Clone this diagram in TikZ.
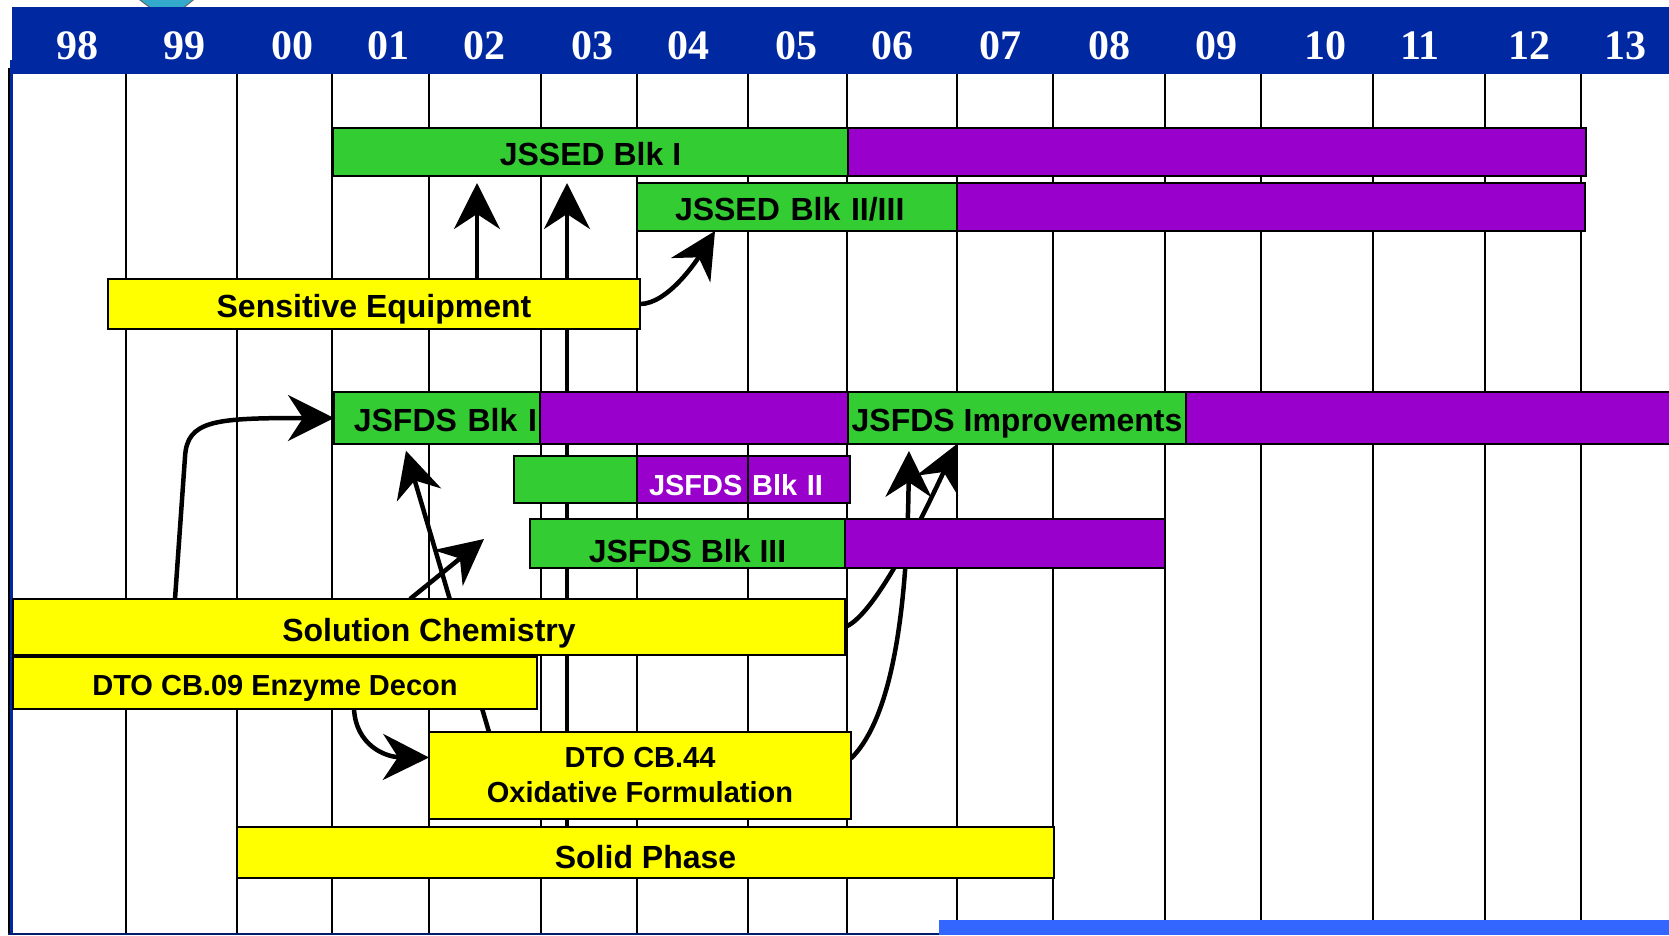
\documentclass[tikz,border=0pt]{standalone}
\usepackage{fontspec}
\setmainfont{Liberation Sans}
\newfontfamily\yearfont{Liberation Serif}
\usepackage{xcolor}
\usepackage{tikz}
\usetikzlibrary{positioning, arrows.meta}
\definecolor{hdrBlue}{RGB}{0,40,160}
\definecolor{barGreen}{RGB}{51,204,51}
\definecolor{barPurple}{RGB}{153,0,204}
\definecolor{barYellow}{RGB}{255,255,0}
\definecolor{footBlue}{RGB}{51,102,255}
\definecolor{capCyan}{RGB}{51,170,204}
\pgfdeclarelayer{gridlayer}
\pgfdeclarelayer{linklayer}
\pgfsetlayers{gridlayer,linklayer,main}
\tikzstyle{gridline} = [line width=2pt, black]
\tikzstyle{link} = [line width=4.5pt, -{Stealth[length=46pt, width=46pt, inset=15pt]}]

\begin{document}
\begin{tikzpicture}[x=1pt, y=-1pt,
    box/.style={draw, line width=1.5pt, outer sep=0pt, inner sep=0pt, anchor=north west, font=\fontsize{32}{38}\selectfont\bfseries, text height=27pt, text depth=0pt},
    grn/.style={box, fill=barGreen},
    prp/.style={box, fill=barPurple},
    ylw/.style={box, fill=barYellow},
    small/.style={font=\fontsize{29}{35}\selectfont\bfseries, text height=25pt},
    yearlbl/.style={anchor=base, text=white, font=\yearfont\bfseries\fontsize{42}{48}\selectfont}]

    \useasboundingbox (0,0) rectangle (1669,935);

    % Badge cut off at the top
    \filldraw[fill=capCyan, draw=black!60, line width=1pt] (136,-3) -- (197,-3) -- (182,9) -- (152,9) -- cycle;

    % Header band and frame
    \fill[hdrBlue] (12,7) rectangle (1669,74);
    \fill[hdrBlue] (10,60) rectangle (12,74);
    \draw[line width=2pt] (8.5,68) -- (8.5,935);
    \draw[hdrBlue, line width=3pt] (11.5,74) -- (11.5,934);
    \draw[hdrBlue!70!black, line width=2pt] (8,934) -- (939,934);
    \fill[footBlue] (939,920) rectangle (1669,935);

    % Years
    \foreach \yx/\yr in {77/98, 184/99, 292/00, 388/01, 484/02, 592/03, 688/04, 796/05, 892/06, 1000/07, 1109/08, 1216/09, 1325/10, 1420/11, 1529/12, 1625/13}
        \node[yearlbl] (yr\yr) at (\yx,59) {\yr};

    % Grid lines
    \begin{pgfonlayer}{gridlayer}
    \foreach \gx in {126,237,332,429,541,637,748,847,957,1053,1165,1261,1373,1485,1581}
        \draw[gridline] (\gx,74) -- (\gx,934);
    \end{pgfonlayer}

    % JSSED bars
    \node[grn, minimum width=515pt, minimum height=48pt] (jssedOne) at (333,128) {JSSED Blk I};
    \node[prp, right=0pt of jssedOne, minimum width=738pt, minimum height=48pt] (jssedOneP) {};
    \node[grn, minimum width=320pt, minimum height=48pt, text width=244pt, inner xsep=38pt, align=left] (jssedTwo) at (637,183) {JSSED Blk II/III};
    \node[prp, right=0pt of jssedTwo, minimum width=628pt, minimum height=48pt] (jssedTwoP) {};
    \node[ylw, minimum width=532pt, minimum height=50pt] (sensEq) at (108,279) {Sensitive Equipment};

    % JSFDS bars
    \node[grn, minimum width=206pt, minimum height=52pt, text width=200pt, inner xsep=3pt, align=right] (jsfdsOne) at (334,392) {JSFDS Blk I};
    \node[prp, right=0pt of jsfdsOne, minimum width=308pt, minimum height=52pt] (jsfdsOneP) {};
    \node[grn, right=0pt of jsfdsOneP, minimum width=338pt, minimum height=52pt] (jsfdsImp) {JSFDS Improvements};
    \node[prp, right=0pt of jsfdsImp, minimum width=500pt, minimum height=52pt] (jsfdsImpP) {};
    \node[grn, minimum width=123pt, minimum height=47pt] (jsfdsTwo) at (514,456) {};
    \node[prp, small, text=white, text height=31pt, right=0pt of jsfdsTwo, minimum width=213pt, minimum height=47pt, text width=189pt, inner xsep=12pt, align=left] (jsfdsTwoP) {JSFDS Blk II};
    \draw[gridline] (748,0 |- jsfdsTwoP.north) -- (748,0 |- jsfdsTwoP.south);
    \node[grn, text height=37pt, minimum width=315pt, minimum height=49pt] (jsfdsThree) at (530,519) {JSFDS Blk III};
    \node[prp, right=0pt of jsfdsThree, minimum width=320pt, minimum height=49pt] (jsfdsThreeP) {};

    % Chemistry boxes
    \node[ylw, text height=29pt, minimum width=832pt, minimum height=56pt] (solChem) at (13,599) {Solution Chemistry};
    \node[ylw, small, minimum width=524pt, minimum height=52pt] (cbNine) at (13,657) {DTO CB.09 Enzyme Decon};
    \node[ylw, small, align=center, text height=, text depth=, minimum width=422pt, minimum height=87pt] (cbFortyFour) at (429,732) {DTO CB.44\\Oxidative Formulation};
    \node[ylw, text height=31pt, minimum width=817pt, minimum height=51pt] (solidPh) at (237,827) {Solid Phase};

    % Arrows
    \begin{pgfonlayer}{linklayer}
    \draw[link, shorten >=7pt] (477,0 |- sensEq.north) -- (477,0 |- jssedOne.south);
    \draw[link, shorten >=7pt] (567,0 |- solidPh.north) -- (567,0 |- jssedOne.south);
    \draw[link] (sensEq.east) .. controls +(28,0) and +(-18,29) .. (715,0 |- jssedTwo.south);
    \draw[link] (175,0 |- solChem.north) -- (185,457) .. controls (187,420) and (215,418) .. (jsfdsOne.west);
    \draw[link, shorten >=7pt] (489,0 |- cbFortyFour.north) -- (404,0 |- jsfdsOne.south);
    \coordinate (chemTip) at (484,539);
    \draw[link] (410,0 |- solChem.north) -- (chemTip);
    \draw[link] (solChem.east) .. controls (878,615) and (935,490) .. (957,0 |- jsfdsImp.south);
    \draw[link, shorten >=7pt] ([yshift=17pt]cbFortyFour.east) .. controls (885,725) and (907,640) .. (909,0 |- jsfdsImp.south);
    \draw[link] (354,0 |- cbNine.south) .. controls (356,745) and (385,757) .. ([yshift=18pt]cbFortyFour.west);
    \end{pgfonlayer}

\end{tikzpicture}
\end{document}
